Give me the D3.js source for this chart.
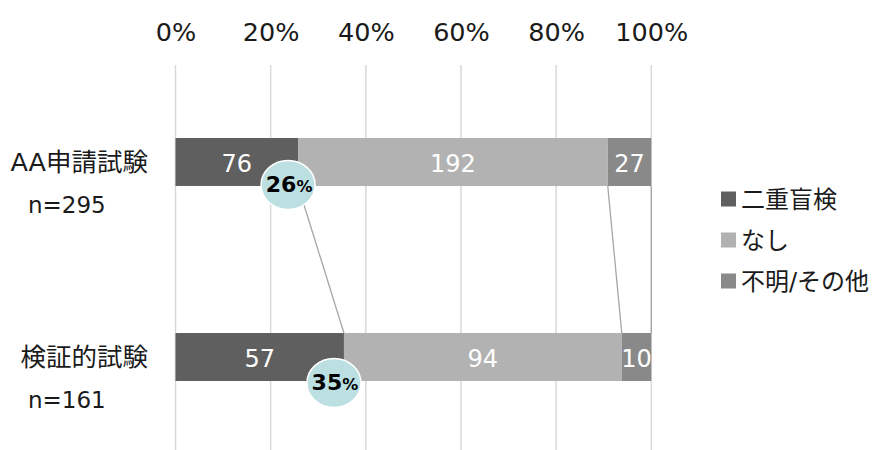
<!DOCTYPE html>
<html>
<head>
<meta charset="utf-8">
<script src="https://cdn.jsdelivr.net/npm/d3@7"></script>
<style>
  html, body { margin: 0; padding: 0; background: #ffffff; }
  svg { display: block; font-family: "DejaVu Sans", "Noto Sans CJK JP", sans-serif; }
</style>
</head>
<body>
<svg id="chart" width="873" height="450"></svg>
<script>
// Trial categories and their sample sizes
const categories = ["AA申請試験", "検証的試験"];
const sampleSizes = ["n=295", "n=161"];

// Blinding design counts per category
const seriesNames = ["二重盲検", "なし", "不明/その他"];
const doubleBlind = [76, 57];
const noBlinding = [192, 94];
const unknownOther = [27, 10];

// Axis ticks (share of trials)
const tickValues = [0, 0.2, 0.4, 0.6, 0.8, 1.0];

const seriesColors = ["#5f5f5f", "#b2b2b2", "#898989"];
const bubbleColor = "#bcdfe2";
const textColor = "#1a1a1a";

const svg = d3.select("#chart");
const W = 873, H = 450;

// Build stacked rows as shares of each category total
const rows = categories.map((c, i) => {
  const vals = [doubleBlind[i], noBlinding[i], unknownOther[i]];
  const total = d3.sum(vals);
  const row = { category: c, n: sampleSizes[i], total };
  seriesNames.forEach((s, j) => { row[s] = vals[j] / total; row[s + "_count"] = vals[j]; });
  return row;
});

const stack = d3.stack().keys(seriesNames);
const layers = stack(rows);

const x = d3.scaleLinear().domain([0, 1]).range([175.5, 651.3]);
const y = d3.scaleBand().domain(categories).range([40.5, 478.5])
  .paddingInner(0.754).paddingOuter(0.5);

// Vertical gridlines
svg.append("g").selectAll("line").data(tickValues).join("line")
  .attr("x1", d => x(d)).attr("x2", d => x(d))
  .attr("y1", 65).attr("y2", H)
  .attr("stroke", "#d9d9d9").attr("stroke-width", 1.5);

// Top axis labels
const axis = d3.axisTop(x).tickValues(tickValues).tickFormat(d3.format(".0%")).tickSize(0);
const axisG = svg.append("g").attr("transform", "translate(0,41)").call(axis);
axisG.select(".domain").remove();
axisG.selectAll("text").attr("font-size", 25.5).attr("fill", textColor)
  .attr("font-family", "DejaVu Sans").attr("y", 0).attr("dy", 0);

// Series lines joining segment boundaries between the two bars
const bw = y.bandwidth();
const seriesLineG = svg.append("g");
layers.forEach(layer => {
  seriesLineG.append("line")
    .attr("x1", x(layer[0][1])).attr("y1", y(categories[0]) + bw)
    .attr("x2", x(layer[1][1])).attr("y2", y(categories[1]))
    .attr("stroke", "#a6a6a6").attr("stroke-width", 1.3);
});

// Stacked bars
const barG = svg.append("g");
layers.forEach((layer, j) => {
  barG.append("g").selectAll("rect").data(layer).join("rect")
    .attr("x", d => x(d[0]))
    .attr("y", d => y(d.data.category))
    .attr("width", d => x(d[1]) - x(d[0]))
    .attr("height", bw)
    .attr("fill", seriesColors[j]);
});

// Count labels inside segments
layers.forEach(layer => {
  barG.append("g").selectAll("text").data(layer).join("text")
    .attr("x", d => (x(d[0]) + x(d[1])) / 2)
    .attr("y", d => y(d.data.category) + bw / 2 + 10)
    .attr("text-anchor", "middle")
    .attr("font-size", 24)
    .attr("fill", "#ffffff")
    .text(d => d.data[layer.key + "_count"]);
});

// Double-blind share bubbles
const bubbleG = svg.append("g");
rows.forEach((r, i) => {
  const share = r[seriesNames[0]];
  const cx = x(share) - 10;
  const cy = y(r.category) + bw + (i === 0 ? -1 : 2);
  bubbleG.append("ellipse")
    .attr("cx", cx).attr("cy", cy).attr("rx", 27).attr("ry", 24.5)
    .attr("fill", bubbleColor).attr("stroke", "#ffffff").attr("stroke-width", 1.5);
  const t = bubbleG.append("text")
    .attr("x", cx + 1).attr("y", cy + 7)
    .attr("text-anchor", "middle")
    .attr("font-weight", "bold").attr("fill", "#000000");
  t.append("tspan").attr("font-size", 22).text(Math.round(share * 100));
  t.append("tspan").attr("font-size", 16).text("%");
});

// Category labels
const catG = svg.append("g");
rows.forEach(r => {
  const cy = y(r.category) + bw / 2;
  catG.append("text").attr("x", 148).attr("y", cy + 9)
    .attr("text-anchor", "end").attr("font-size", 25.5).attr("fill", textColor)
    .text(r.category);
  catG.append("text").attr("x", 28).attr("y", cy + 51)
    .attr("text-anchor", "start").attr("font-size", 23).attr("fill", textColor)
    .text(r.n);
});

// Legend
const legend = svg.append("g").attr("transform", "translate(721,199)");
seriesNames.forEach((s, j) => {
  const g = legend.append("g").attr("transform", `translate(0,${j * 41})`);
  g.append("rect").attr("x", 0).attr("y", -7.5).attr("width", 15).attr("height", 15)
    .attr("fill", seriesColors[j]);
  g.append("text").attr("x", 20).attr("y", 8.5).attr("font-size", 24)
    .attr("fill", textColor).text(s);
});
</script>
</body>
</html>
